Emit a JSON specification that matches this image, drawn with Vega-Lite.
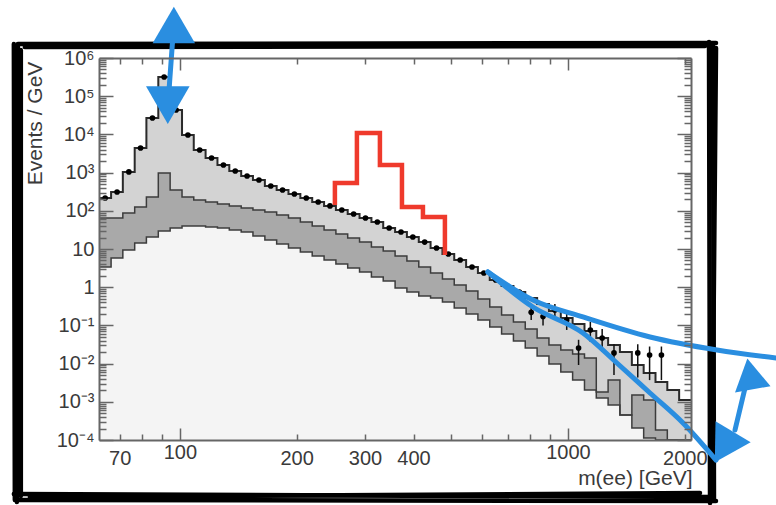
{
  "$schema": "https://vega.github.io/schema/vega-lite/v6.json",
  "width": 592,
  "height": 382,
  "autosize": {"type": "none"},
  "padding": {"left": 99, "top": 58, "right": 85, "bottom": 65},
  "background": "white",
  "config": {"view": {"stroke": null}, "font": "Liberation Sans", "axis": {"grid": false}},
  "resolve": {"axis": {"x": "independent", "y": "independent"}},
  "datasets": {
    "bins": [
      {"x0": 61.9, "x1": 66.5, "xc": 64.2, "top": 216, "mid": 64.8, "low": 3.38, "obs": 216},
      {"x0": 66.5, "x1": 71.3, "xc": 68.9, "top": 310, "mid": 64.8, "low": 5.81, "obs": 310},
      {"x0": 71.3, "x1": 76.5, "xc": 73.9, "top": 1040, "mid": 87.6, "low": 9.41, "obs": 1040},
      {"x0": 76.5, "x1": 82.0, "xc": 79.2, "top": 4400, "mid": 126, "low": 14.4, "obs": 4400},
      {"x0": 82.0, "x1": 88.0, "xc": 85.0, "top": 26900, "mid": 230, "low": 20.6, "obs": 26900},
      {"x0": 88.0, "x1": 94.4, "xc": 91.1, "top": 318000, "mid": 977, "low": 29.6, "obs": 318000},
      {"x0": 94.4, "x1": 101.3, "xc": 97.8, "top": 43600, "mid": 351, "low": 35.5, "obs": 43600},
      {"x0": 101.3, "x1": 108.6, "xc": 104.9, "top": 9640, "mid": 230, "low": 40.0, "obs": 9640},
      {"x0": 108.6, "x1": 116.5, "xc": 112.5, "top": 3900, "mid": 192, "low": 40.0, "obs": 3900},
      {"x0": 116.5, "x1": 125.0, "xc": 120.7, "top": 2410, "mid": 170, "low": 37.7, "obs": 2410},
      {"x0": 125.0, "x1": 134.1, "xc": 129.5, "top": 1580, "mid": 151, "low": 35.5, "obs": 1580},
      {"x0": 134.1, "x1": 143.9, "xc": 138.9, "top": 1100, "mid": 134, "low": 31.4, "obs": 1100},
      {"x0": 143.9, "x1": 154.3, "xc": 149.0, "top": 815, "mid": 118, "low": 27.9, "obs": 815},
      {"x0": 154.3, "x1": 165.6, "xc": 159.9, "top": 640, "mid": 105, "low": 21.9, "obs": 640},
      {"x0": 165.6, "x1": 177.6, "xc": 171.5, "top": 446, "mid": 93.1, "low": 17.2, "obs": 446},
      {"x0": 177.6, "x1": 190.5, "xc": 183.9, "top": 351, "mid": 77.6, "low": 13.5, "obs": 351},
      {"x0": 190.5, "x1": 204.4, "xc": 197.3, "top": 275, "mid": 64.8, "low": 10.6, "obs": 275},
      {"x0": 204.4, "x1": 219.3, "xc": 211.7, "top": 216, "mid": 50.9, "low": 8.35, "obs": 216},
      {"x0": 219.3, "x1": 235.3, "xc": 227.2, "top": 170, "mid": 40.0, "low": 6.56, "obs": 170},
      {"x0": 235.3, "x1": 252.4, "xc": 243.7, "top": 134, "mid": 31.4, "low": 5.15, "obs": 134},
      {"x0": 252.4, "x1": 270.7, "xc": 261.4, "top": 105, "mid": 24.7, "low": 4.05, "obs": 105},
      {"x0": 270.7, "x1": 290.4, "xc": 280.4, "top": 82.4, "mid": 19.4, "low": 3.18, "obs": 82.4},
      {"x0": 290.4, "x1": 311.6, "xc": 300.8, "top": 64.8, "mid": 15.2, "low": 2.50, "obs": 64.8},
      {"x0": 311.6, "x1": 334.2, "xc": 322.7, "top": 50.9, "mid": 11.3, "low": 1.85, "obs": 50.9},
      {"x0": 334.2, "x1": 358.6, "xc": 346.2, "top": 35.5, "mid": 8.87, "low": 1.45, "obs": 35.5},
      {"x0": 358.6, "x1": 384.6, "xc": 371.4, "top": 27.9, "mid": 6.56, "low": 0.953, "obs": 27.9},
      {"x0": 384.6, "x1": 412.7, "xc": 398.4, "top": 20.6, "mid": 4.85, "low": 0.748, "obs": 20.6},
      {"x0": 412.7, "x1": 442.6, "xc": 427.4, "top": 15.2, "mid": 3.38, "low": 0.589, "obs": 15.2},
      {"x0": 442.6, "x1": 474.9, "xc": 458.5, "top": 10.6, "mid": 2.36, "low": 0.522, "obs": 10.6},
      {"x0": 474.9, "x1": 509.3, "xc": 491.8, "top": 7.40, "mid": 1.64, "low": 0.410, "obs": 7.40},
      {"x0": 509.3, "x1": 546.5, "xc": 527.6, "top": 5.15, "mid": 1.14, "low": 0.285, "obs": 5.15},
      {"x0": 546.5, "x1": 586.1, "xc": 566.0, "top": 3.38, "mid": 0.796, "low": 0.199, "obs": 3.38},
      {"x0": 586.1, "x1": 628.8, "xc": 607.2, "top": 2.36, "mid": 0.491, "low": 0.138, "obs": 2.36},
      {"x0": 628.8, "x1": 674.5, "xc": 651.3, "top": 1.54, "mid": 0.303, "low": 0.0908, "obs": 1.54},
      {"x0": 674.5, "x1": 723.6, "xc": 698.7, "top": 1.07, "mid": 0.187, "low": 0.0596, "obs": 1.07},
      {"x0": 723.6, "x1": 776.2, "xc": 749.5, "top": 0.748, "mid": 0.123, "low": 0.0391, "obs": 0.748},
      {"x0": 776.2, "x1": 832.8, "xc": 804.0, "top": 0.522, "mid": 0.0805, "low": 0.0256, "obs": 0.22, "lo": 0.138, "hi": 0.32},
      {"x0": 832.8, "x1": 893.3, "xc": 862.5, "top": 0.363, "mid": 0.0468, "low": 0.0158, "obs": 0.17, "lo": 0.1, "hi": 0.238},
      {"x0": 893.3, "x1": 958.4, "xc": 925.3, "top": 0.238, "mid": 0.0307, "low": 0.00977, "obs": 0.253, "lo": 0.156, "hi": 0.363},
      {"x0": 958.4, "x1": 1028, "xc": 992.6, "top": 0.156, "mid": 0.0227, "low": 0.00603, "obs": 0.138, "lo": 0.076, "hi": 0.21},
      {"x0": 1028, "x1": 1103, "xc": 1065, "top": 0.109, "mid": 0.0178, "low": 0.00372, "obs": 0.0256, "lo": 0.0092, "hi": 0.042},
      {"x0": 1103, "x1": 1183, "xc": 1142, "top": 0.0713, "mid": 0.0140, "low": 0.00204, "obs": 0.0759, "lo": 0.037, "hi": 0.123},
      {"x0": 1183, "x1": 1269, "xc": 1225, "top": 0.0468, "mid": 0.00181, "low": 0.00126, "obs": 0.0468, "lo": 0.0201, "hi": 0.0805},
      {"x0": 1269, "x1": 1361, "xc": 1314, "top": 0.0307, "mid": 0.00372, "low": 0.000824, "obs": 0.019, "lo": 0.005, "hi": 0.032},
      {"x0": 1361, "x1": 1461, "xc": 1410, "top": 0.0201, "mid": 0.000451, "low": 0.000451},
      {"x0": 1461, "x1": 1567, "xc": 1513, "top": 0.00919, "mid": 0.00151, "low": 0.000206, "obs": 0.019, "lo": 0.0043, "hi": 0.032},
      {"x0": 1567, "x1": 1681, "xc": 1623, "top": 0.00568, "mid": 0.00111, "low": 0.000113, "obs": 0.0168, "lo": 0.0037, "hi": 0.028},
      {"x0": 1681, "x1": 1803, "xc": 1741, "top": 0.00330, "mid": 0.000183, "low": 0.0001, "obs": 0.0168, "lo": 0.0037, "hi": 0.028},
      {"x0": 1803, "x1": 1934, "xc": 1867, "top": 0.00204, "mid": 0.0001, "low": 0.0001},
      {"x0": 1934, "x1": 2075, "xc": 2003, "top": 0.00111, "mid": 0.0001, "low": 0.0001},
      {"x0": 2075, "top": 0.00111, "mid": 0.0001, "low": 0.0001}
    ],
    "red": [
      {"i": 0, "x": 250.9, "y": 142},
      {"i": 1, "x": 250.9, "y": 535},
      {"i": 2, "x": 285.9, "y": 535},
      {"i": 3, "x": 285.9, "y": 10900},
      {"i": 4, "x": 327.7, "y": 10900},
      {"i": 5, "x": 327.7, "y": 1580},
      {"i": 6, "x": 373.5, "y": 1580},
      {"i": 7, "x": 373.5, "y": 126},
      {"i": 8, "x": 423, "y": 126},
      {"i": 9, "x": 423, "y": 68.8},
      {"i": 10, "x": 481.9, "y": 68.8},
      {"i": 11, "x": 481.9, "y": 7.0}
    ],
    "frame": [
      {"g": "T1", "i": 0, "x": 38.25, "y": 2330000}, {"g": "T1", "i": 1, "x": 2407, "y": 2470000},
      {"g": "T2", "i": 0, "x": 39.86, "y": 1940000}, {"g": "T2", "i": 1, "x": 2255, "y": 2060000},
      {"g": "L1", "i": 0, "x": 37.35, "y": 2330000}, {"g": "L1", "i": 1, "x": 37.57, "y": 0.00000269},
      {"g": "L2", "i": 0, "x": 38.25, "y": 2060000}, {"g": "L2", "i": 1, "x": 38.02, "y": 0.00000238},
      {"g": "L3", "i": 0, "x": 38.93, "y": 1620000}, {"g": "L3", "i": 1, "x": 38.93, "y": 0.00000342},
      {"g": "B1", "i": 0, "x": 37.35, "y": 0.00000386}, {"g": "B1", "i": 1, "x": 2350, "y": 0.00000322},
      {"g": "B2", "i": 0, "x": 37.79, "y": 0.00000269}, {"g": "B2", "i": 1, "x": 2407, "y": 0.00000253},
      {"g": "B3", "i": 0, "x": 41.07, "y": 0.00000322}, {"g": "B3", "i": 1, "x": 2189, "y": 0.0000041},
      {"g": "R1", "i": 0, "x": 2309, "y": 2620000}, {"g": "R1", "i": 1, "x": 2323, "y": 0.00000224},
      {"g": "R2", "i": 0, "x": 2364, "y": 2330000}, {"g": "R2", "i": 1, "x": 2378, "y": 0.00000269},
      {"g": "R3", "i": 0, "x": 2407, "y": 1830000}, {"g": "R3", "i": 1, "x": 2350, "y": 0.00000303}
    ],
    "blue": [
      {"g": "v", "i": 0, "x": 95.9, "y": 3340000}, {"g": "v", "i": 1, "x": 93.7, "y": 128800},
      {"g": "u", "i": 0, "x": 622, "y": 2.5}, {"g": "u", "i": 1, "x": 812.5, "y": 0.462}, {"g": "u", "i": 2, "x": 1093, "y": 0.166}, {"g": "u", "i": 3, "x": 1627, "y": 0.0497}, {"g": "u", "i": 4, "x": 2421, "y": 0.0227}, {"g": "u", "i": 5, "x": 3437, "y": 0.014},
      {"g": "l", "i": 0, "x": 622, "y": 2.5}, {"g": "l", "i": 1, "x": 812.5, "y": 0.303}, {"g": "l", "i": 2, "x": 1093, "y": 0.0632}, {"g": "l", "i": 3, "x": 1337, "y": 0.01037}, {"g": "l", "i": 4, "x": 1627, "y": 0.0017}, {"g": "l", "i": 5, "x": 1979, "y": 0.000279}, {"g": "l", "i": 6, "x": 2407, "y": 0.0000299},
      {"g": "c", "i": 0, "x": 2859, "y": 0.0023}, {"g": "c", "i": 1, "x": 2694, "y": 0.000183}
    ],
    "tri": [
      {"name": "t1", "x": 96.5, "y": 7310000},
      {"name": "t2", "x": 93.1, "y": 58800},
      {"name": "t3", "x": 2946, "y": 0.00535},
      {"name": "t4", "x": 2523, "y": 0.0000656}
    ]
  },
  "layer": [
    {
      "data": {"name": "bins"},
      "mark": {"type": "area", "interpolate": "step-after", "fill": "#f4f4f4", "clip": true},
      "encoding": {
        "x": {"field": "x0", "type": "quantitative", "scale": {"type": "log", "domain": [61.9, 2075], "nice": false},
          "axis": {"orient": "bottom", "values": [70, 80, 90, 100, 200, 300, 400, 500, 600, 700, 800, 900, 1000, 2000],
            "labelExpr": "indexof([70,100,200,300,400,1000,2000], datum.value) >= 0 ? format(datum.value, 'd') : ''",
            "tickSize": {"condition": {"test": "datum.value == 100 || datum.value == 1000", "value": -12}, "value": -6},
            "labelPadding": 14, "labelFontSize": 20, "labelColor": "#3a3a3a", "labelOverlap": false, "labelFlush": false,
            "title": "m(ee) [GeV]", "titleFontSize": 21, "titleFontWeight": "normal", "titleColor": "#3a3a3a",
            "titleX": 593, "titleY": 38, "titleAlign": "right", "titleBaseline": "middle",
            "domainColor": "#666666", "domainWidth": 2, "tickColor": "#666666", "tickWidth": 1.5, "zindex": 1}},
        "y": {"field": "low", "type": "quantitative", "scale": {"type": "log", "domain": [0.0001, 1000000], "nice": false},
          "axis": {"orient": "left",
            "values": [0.0001,0.0002,0.0003,0.0004,0.0005,0.0006,0.0007,0.0008,0.0009,0.001,0.002,0.003,0.004,0.005,0.006,0.007,0.008,0.009,0.01,0.02,0.03,0.04,0.05,0.06,0.07,0.08,0.09,0.1,0.2,0.3,0.4,0.5,0.6,0.7,0.8,0.9,1,2,3,4,5,6,7,8,9,10,20,30,40,50,60,70,80,90,100,200,300,400,500,600,700,800,900,1000,2000,3000,4000,5000,6000,7000,8000,9000,10000,20000,30000,40000,50000,60000,70000,80000,90000,100000,200000,300000,400000,500000,600000,700000,800000,900000,1000000],
            "labelExpr": "abs(log(datum.value)/LN10 - round(log(datum.value)/LN10)) < 0.001 ? ['10⁻⁴','10⁻³','10⁻²','10⁻¹','1','10','10²','10³','10⁴','10⁵','10⁶'][round(log(datum.value)/LN10)+4] : ''",
            "tickSize": {"condition": {"test": "abs(log(datum.value)/LN10 - round(log(datum.value)/LN10)) < 0.001", "value": -14}, "value": -7},
            "labelPadding": 19, "labelFontSize": 20, "labelColor": "#3a3a3a", "labelOverlap": false,
            "title": "Events / GeV", "titleFontSize": 21, "titleFontWeight": "normal", "titleColor": "#3a3a3a",
            "titleX": -64, "titleY": 65, "titleAngle": 270, "titleAlign": "center", "titleBaseline": "middle",
            "domainColor": "#666666", "domainWidth": 2, "tickColor": "#666666", "tickWidth": 1.5, "zindex": 1}},
        "y2": {"datum": 0.0001}
      }
    },
    {
      "data": {"name": "bins"},
      "mark": {"type": "area", "interpolate": "step-after", "fill": "#a9a9a9", "clip": true},
      "encoding": {
        "x": {"field": "x0", "type": "quantitative", "scale": {"type": "log", "domain": [61.9, 2075], "nice": false}, "axis": null},
        "y": {"field": "mid", "type": "quantitative", "scale": {"type": "log", "domain": [0.0001, 1000000], "nice": false}, "axis": null},
        "y2": {"field": "low"}
      }
    },
    {
      "data": {"name": "bins"},
      "mark": {"type": "area", "interpolate": "step-after", "fill": "#d3d3d3", "clip": true},
      "encoding": {
        "x": {"field": "x0", "type": "quantitative", "scale": {"type": "log", "domain": [61.9, 2075], "nice": false}, "axis": null},
        "y": {"field": "top", "type": "quantitative", "scale": {"type": "log", "domain": [0.0001, 1000000], "nice": false}, "axis": null},
        "y2": {"field": "mid"}
      }
    },
    {
      "data": {"name": "bins"},
      "mark": {"type": "line", "interpolate": "step-after", "stroke": "#3c3c3c", "strokeWidth": 1.5, "clip": true},
      "encoding": {
        "x": {"field": "x0", "type": "quantitative", "scale": {"type": "log", "domain": [61.9, 2075], "nice": false},
          "axis": {"orient": "top", "values": [70, 80, 90, 100, 200, 300, 400, 500, 600, 700, 800, 900, 1000, 2000], "labels": false, "title": null,
            "tickSize": {"condition": {"test": "datum.value == 100 || datum.value == 1000", "value": -12}, "value": -6},
            "domainColor": "#666666", "domainWidth": 2, "tickColor": "#666666", "tickWidth": 1.5, "zindex": 1}},
        "y": {"field": "low", "type": "quantitative", "scale": {"type": "log", "domain": [0.0001, 1000000], "nice": false},
          "axis": {"orient": "right", "labels": false, "title": null,
            "values": [0.0001,0.0002,0.0003,0.0004,0.0005,0.0006,0.0007,0.0008,0.0009,0.001,0.002,0.003,0.004,0.005,0.006,0.007,0.008,0.009,0.01,0.02,0.03,0.04,0.05,0.06,0.07,0.08,0.09,0.1,0.2,0.3,0.4,0.5,0.6,0.7,0.8,0.9,1,2,3,4,5,6,7,8,9,10,20,30,40,50,60,70,80,90,100,200,300,400,500,600,700,800,900,1000,2000,3000,4000,5000,6000,7000,8000,9000,10000,20000,30000,40000,50000,60000,70000,80000,90000,100000,200000,300000,400000,500000,600000,700000,800000,900000,1000000],
            "tickSize": {"condition": {"test": "abs(log(datum.value)/LN10 - round(log(datum.value)/LN10)) < 0.001", "value": -14}, "value": -7},
            "domainColor": "#666666", "domainWidth": 2, "tickColor": "#666666", "tickWidth": 1.5, "zindex": 1}}
      }
    },
    {
      "data": {"name": "bins"},
      "mark": {"type": "line", "interpolate": "step-after", "stroke": "#3c3c3c", "strokeWidth": 1.5, "clip": true},
      "encoding": {
        "x": {"field": "x0", "type": "quantitative", "scale": {"type": "log", "domain": [61.9, 2075], "nice": false}, "axis": null},
        "y": {"field": "mid", "type": "quantitative", "scale": {"type": "log", "domain": [0.0001, 1000000], "nice": false}, "axis": null}
      }
    },
    {
      "data": {"name": "bins"},
      "mark": {"type": "line", "interpolate": "step-after", "stroke": "#2a2a2a", "strokeWidth": 2, "clip": true},
      "encoding": {
        "x": {"field": "x0", "type": "quantitative", "scale": {"type": "log", "domain": [61.9, 2075], "nice": false}, "axis": null},
        "y": {"field": "top", "type": "quantitative", "scale": {"type": "log", "domain": [0.0001, 1000000], "nice": false}, "axis": null}
      }
    },
    {
      "data": {"name": "bins"},
      "transform": [{"filter": "isValid(datum.lo)"}],
      "mark": {"type": "rule", "stroke": "#111111", "strokeWidth": 1.5, "clip": true},
      "encoding": {
        "x": {"field": "xc", "type": "quantitative", "scale": {"type": "log", "domain": [61.9, 2075], "nice": false}, "axis": null},
        "y": {"field": "lo", "type": "quantitative", "scale": {"type": "log", "domain": [0.0001, 1000000], "nice": false}, "axis": null},
        "y2": {"field": "hi"}
      }
    },
    {
      "data": {"name": "bins"},
      "transform": [{"filter": "isValid(datum.obs)"}],
      "mark": {"type": "circle", "color": "#000000", "opacity": 1, "size": 32, "clip": true},
      "encoding": {
        "x": {"field": "xc", "type": "quantitative", "scale": {"type": "log", "domain": [61.9, 2075], "nice": false}, "axis": null},
        "y": {"field": "obs", "type": "quantitative", "scale": {"type": "log", "domain": [0.0001, 1000000], "nice": false}, "axis": null}
      }
    },
    {
      "data": {"name": "red"},
      "mark": {"type": "line", "stroke": "#ef3a2c", "strokeWidth": 4.5, "strokeJoin": "miter"},
      "encoding": {
        "x": {"field": "x", "type": "quantitative", "scale": {"type": "log", "domain": [61.9, 2075], "nice": false}, "axis": null},
        "y": {"field": "y", "type": "quantitative", "scale": {"type": "log", "domain": [0.0001, 1000000], "nice": false}, "axis": null},
        "order": {"field": "i", "type": "quantitative"}
      }
    },
    {
      "data": {"name": "frame"},
      "mark": {"type": "line", "stroke": "#000000", "strokeWidth": 4.5, "strokeCap": "round"},
      "encoding": {
        "x": {"field": "x", "type": "quantitative", "scale": {"type": "log", "domain": [61.9, 2075], "nice": false}, "axis": null},
        "y": {"field": "y", "type": "quantitative", "scale": {"type": "log", "domain": [0.0001, 1000000], "nice": false}, "axis": null},
        "detail": {"field": "g", "type": "nominal"},
        "order": {"field": "i", "type": "quantitative"}
      }
    },
    {
      "data": {"name": "blue"},
      "mark": {"type": "line", "stroke": "#2a8ee0", "strokeWidth": 5, "strokeCap": "round", "interpolate": "monotone"},
      "encoding": {
        "x": {"field": "x", "type": "quantitative", "scale": {"type": "log", "domain": [61.9, 2075], "nice": false}, "axis": null},
        "y": {"field": "y", "type": "quantitative", "scale": {"type": "log", "domain": [0.0001, 1000000], "nice": false}, "axis": null},
        "detail": {"field": "g", "type": "nominal"},
        "order": {"field": "i", "type": "quantitative"}
      }
    },
    {
      "data": {"name": "tri"},
      "transform": [{"filter": "datum.name == 't1'"}],
      "mark": {"type": "point", "shape": "triangle-up", "size": 1800, "filled": true, "color": "#2a8ee0", "opacity": 1},
      "encoding": {
        "x": {"field": "x", "type": "quantitative", "scale": {"type": "log", "domain": [61.9, 2075], "nice": false}, "axis": null},
        "y": {"field": "y", "type": "quantitative", "scale": {"type": "log", "domain": [0.0001, 1000000], "nice": false}, "axis": null}
      }
    },
    {
      "data": {"name": "tri"},
      "transform": [{"filter": "datum.name == 't2'"}],
      "mark": {"type": "point", "shape": "triangle-down", "size": 1900, "filled": true, "color": "#2a8ee0", "opacity": 1},
      "encoding": {
        "x": {"field": "x", "type": "quantitative", "scale": {"type": "log", "domain": [61.9, 2075], "nice": false}, "axis": null},
        "y": {"field": "y", "type": "quantitative", "scale": {"type": "log", "domain": [0.0001, 1000000], "nice": false}, "axis": null}
      }
    },
    {
      "data": {"name": "tri"},
      "transform": [{"filter": "datum.name == 't3'"}],
      "mark": {"type": "point", "shape": "triangle-up", "size": 1300, "angle": 350, "filled": true, "color": "#2a8ee0", "opacity": 1},
      "encoding": {
        "x": {"field": "x", "type": "quantitative", "scale": {"type": "log", "domain": [61.9, 2075], "nice": false}, "axis": null},
        "y": {"field": "y", "type": "quantitative", "scale": {"type": "log", "domain": [0.0001, 1000000], "nice": false}, "axis": null}
      }
    },
    {
      "data": {"name": "tri"},
      "transform": [{"filter": "datum.name == 't4'"}],
      "mark": {"type": "point", "shape": "triangle-down", "size": 1681, "angle": 31, "filled": true, "color": "#2a8ee0", "opacity": 1},
      "encoding": {
        "x": {"field": "x", "type": "quantitative", "scale": {"type": "log", "domain": [61.9, 2075], "nice": false}, "axis": null},
        "y": {"field": "y", "type": "quantitative", "scale": {"type": "log", "domain": [0.0001, 1000000], "nice": false}, "axis": null}
      }
    }
  ]
}
